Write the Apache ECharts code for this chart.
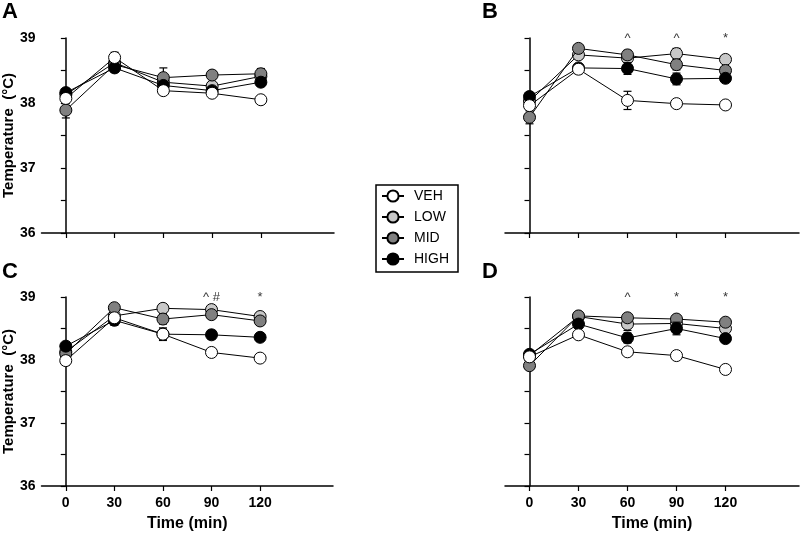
<!DOCTYPE html>
<html><head><meta charset="utf-8">
<script src="https://cdn.jsdelivr.net/npm/echarts@6/dist/echarts.min.js"></script>
<style>html,body{margin:0;padding:0;background:#fff}#c{width:800px;height:533px}</style>
</head><body><div id="c"></div>
<script>
const times = [0, 30, 60, 90, 120];
const groups = ['VEH', 'LOW', 'MID', 'HIGH'];
const panelLetters = ['A', 'B', 'C', 'D'];
const yTicks = ['36', '37', '38', '39'];

// Panel A
const A_VEH = [38.07, 38.70, 38.19, 38.15, 38.05];
const A_LOW = [38.13, 38.62, 38.32, 38.26, 38.41];
const A_MID = [37.89, 38.59, 38.39, 38.43, 38.45];
const A_HIGH = [38.16, 38.54, 38.27, 38.19, 38.32];
const A_VEH_err = [0.08, 0.08, 0.04, 0.04, 0.06];
const A_LOW_err = [0.06, 0.05, 0.05, 0.05, 0.05];
const A_MID_err = [0.12, 0.05, 0.15, 0.06, 0.08];
const A_HIGH_err = [0.06, 0.05, 0.05, 0.04, 0.06];
const A_marks = ['', '', '', '', ''];

// Panel B
const B_VEH = [37.96, 38.52, 38.04, 37.99, 37.97];
const B_LOW = [38.03, 38.74, 38.69, 38.76, 38.67];
const B_MID = [37.78, 38.84, 38.74, 38.59, 38.50];
const B_HIGH = [38.10, 38.54, 38.53, 38.37, 38.38];
const B_VEH_err = [0.05, 0.07, 0.14, 0.03, 0.04];
const B_LOW_err = [0.05, 0.06, 0.05, 0.08, 0.05];
const B_MID_err = [0.10, 0.05, 0.07, 0.08, 0.05];
const B_HIGH_err = [0.05, 0.04, 0.09, 0.09, 0.05];
const B_marks = ['', '', '^', '^', '*'];

// Panel C
const C_VEH = [37.99, 38.67, 38.41, 38.12, 38.03];
const C_LOW = [38.13, 38.70, 38.82, 38.80, 38.69];
const C_MID = [38.10, 38.83, 38.65, 38.72, 38.62];
const C_HIGH = [38.22, 38.63, 38.41, 38.40, 38.36];
const C_VEH_err = [0.07, 0.05, 0.08, 0.06, 0.03];
const C_LOW_err = [0.05, 0.05, 0.07, 0.06, 0.06];
const C_MID_err = [0.05, 0.04, 0.08, 0.06, 0.07];
const C_HIGH_err = [0.04, 0.08, 0.10, 0.07, 0.06];
const C_marks = ['', '', '', '^ #', '*'];

// Panel D
const D_VEH = [38.05, 38.40, 38.13, 38.07, 37.85];
const D_LOW = [38.07, 38.69, 38.57, 38.58, 38.50];
const D_MID = [37.91, 38.70, 38.67, 38.65, 38.60];
const D_HIGH = [38.09, 38.57, 38.35, 38.50, 38.34];
const D_VEH_err = [0.03, 0.03, 0.03, 0.03, 0.03];
const D_LOW_err = [0.04, 0.05, 0.10, 0.05, 0.05];
const D_MID_err = [0.04, 0.06, 0.06, 0.04, 0.04];
const D_HIGH_err = [0.04, 0.06, 0.08, 0.10, 0.05];
const D_marks = ['', '', '^', '*', '*'];

const panels = [
  {vals: {VEH: A_VEH, LOW: A_LOW, MID: A_MID, HIGH: A_HIGH}, errs: {VEH: A_VEH_err, LOW: A_LOW_err, MID: A_MID_err, HIGH: A_HIGH_err}, marks: A_marks},
  {vals: {VEH: B_VEH, LOW: B_LOW, MID: B_MID, HIGH: B_HIGH}, errs: {VEH: B_VEH_err, LOW: B_LOW_err, MID: B_MID_err, HIGH: B_HIGH_err}, marks: B_marks},
  {vals: {VEH: C_VEH, LOW: C_LOW, MID: C_MID, HIGH: C_HIGH}, errs: {VEH: C_VEH_err, LOW: C_LOW_err, MID: C_MID_err, HIGH: C_HIGH_err}, marks: C_marks},
  {vals: {VEH: D_VEH, LOW: D_LOW, MID: D_MID, HIGH: D_HIGH}, errs: {VEH: D_VEH_err, LOW: D_LOW_err, MID: D_MID_err, HIGH: D_HIGH_err}, marks: D_marks}
];

const colors = {VEH: '#ffffff', LOW: '#c8c8c8', MID: '#808080', HIGH: '#000000'};
const drawOrder = ['LOW', 'MID', 'HIGH', 'VEH'];
const markY = 39.0;

const grids = [
  {left: 40, top: 38, width: 294, height: 195},
  {left: 505, top: 38, width: 294, height: 195},
  {left: 39, top: 297, width: 294, height: 195},
  {left: 505, top: 297, width: 294, height: 195}
];
const letterPos = [[2, 1], [482, 1], [2, 261], [482, 261]];

const FONT = 'Arial, "Liberation Sans", sans-serif';

const xAxes = grids.map((g, i) => ({
  type: 'value', gridIndex: i, min: -15, max: 165,
  axisLine: {lineStyle: {color: '#000', width: 1.5}},
  axisTick: {show: true, customValues: times, length: 5, lineStyle: {color: '#000', width: 1.2}},
  axisLabel: {show: i >= 2, customValues: times, color: '#000', fontWeight: 'bold', fontSize: 14, fontFamily: FONT, margin: 10},
  splitLine: {show: false},
  name: i >= 2 ? 'Time (min)' : '', nameLocation: 'middle', nameGap: 30,
  nameTextStyle: {color: '#000', fontWeight: 'bold', fontSize: 16, fontFamily: FONT}
}));
const yAxes = grids.map((g, i) => ({
  type: 'value', gridIndex: i, min: 36, max: 39, interval: 0.5,
  axisLine: {show: true, lineStyle: {color: '#000', width: 1.5}},
  axisTick: {show: true, length: 5, lineStyle: {color: '#000', width: 1.2}},
  axisLabel: {show: i % 2 === 0, color: '#000', fontWeight: 'bold', fontSize: 14, fontFamily: FONT, margin: 6,
    formatter: v => yTicks.indexOf(String(v)) >= 0 ? String(v) : ''},
  splitLine: {show: false},
  name: i % 2 === 0 ? 'Temperature  (°C)' : '', nameLocation: 'middle', nameGap: 24, nameRotate: 90,
  nameTextStyle: {color: '#000', fontWeight: 'bold', fontSize: 15, fontFamily: FONT}
}));

const series = [];
panels.forEach((p, i) => {
  drawOrder.forEach((g, k) => {
    series.push({
      type: 'custom', name: g + '_err', xAxisIndex: i, yAxisIndex: i, z: 2 + k * 2,
      silent: true,
      data: times.map((t, j) => [t, p.vals[g][j] - p.errs[g][j], p.vals[g][j] + p.errs[g][j]]),
      renderItem: (params, api) => {
        const x = api.value(0);
        const lo = api.coord([x, api.value(1)]);
        const hi = api.coord([x, api.value(2)]);
        const w = 4;
        const st = {stroke: '#000', lineWidth: 1.2};
        return {type: 'group', children: [
          {type: 'line', shape: {x1: lo[0], y1: lo[1], x2: hi[0], y2: hi[1]}, style: st},
          {type: 'line', shape: {x1: hi[0] - w, y1: hi[1], x2: hi[0] + w, y2: hi[1]}, style: st},
          {type: 'line', shape: {x1: lo[0] - w, y1: lo[1], x2: lo[0] + w, y2: lo[1]}, style: st}
        ]};
      }
    });
    series.push({
      type: 'line', name: g, xAxisIndex: i, yAxisIndex: i, z: 3 + k * 2,
      data: times.map((t, j) => [t, p.vals[g][j]]),
      symbol: 'circle', symbolSize: 12, showSymbol: true,
      lineStyle: {color: '#000', width: 1},
      itemStyle: {color: colors[g], borderColor: '#000', borderWidth: 1},
      color: colors[g],
      animation: false
    });
  });
  series.push({
    type: 'scatter', name: 'marks' + i, xAxisIndex: i, yAxisIndex: i, z: 20,
    symbolSize: 1, itemStyle: {color: 'rgba(0,0,0,0)'},
    data: times.map((t, j) => ({value: [t, markY], label: {formatter: p.marks[j]}})),
    label: {show: true, position: 'inside', color: '#000', fontSize: 13, fontFamily: FONT}
  });
});

const option = {
  animation: false,
  backgroundColor: '#fff',
  title: panelLetters.map((l, i) => ({text: l, left: letterPos[i][0], top: letterPos[i][1], padding: 0,
    textStyle: {fontSize: 22, fontWeight: 'bold', color: '#000', fontFamily: FONT}})),
  grid: grids,
  xAxis: xAxes,
  yAxis: yAxes,
  legend: {
    data: groups, orient: 'vertical', left: 376, top: 185,
    padding: [4, 9, 6, 5], itemGap: 7, itemWidth: 22, itemHeight: 14,
    borderColor: '#000', borderWidth: 1.5, borderRadius: 0,
    textStyle: {fontSize: 14, color: '#000', fontFamily: FONT, padding: [0, 0, 0, 5]},
    selectedMode: false
  },
  series: series
};
const chart = echarts.init(document.getElementById('c'), null, {renderer: 'canvas'});
chart.setOption(option);
</script></body></html>
